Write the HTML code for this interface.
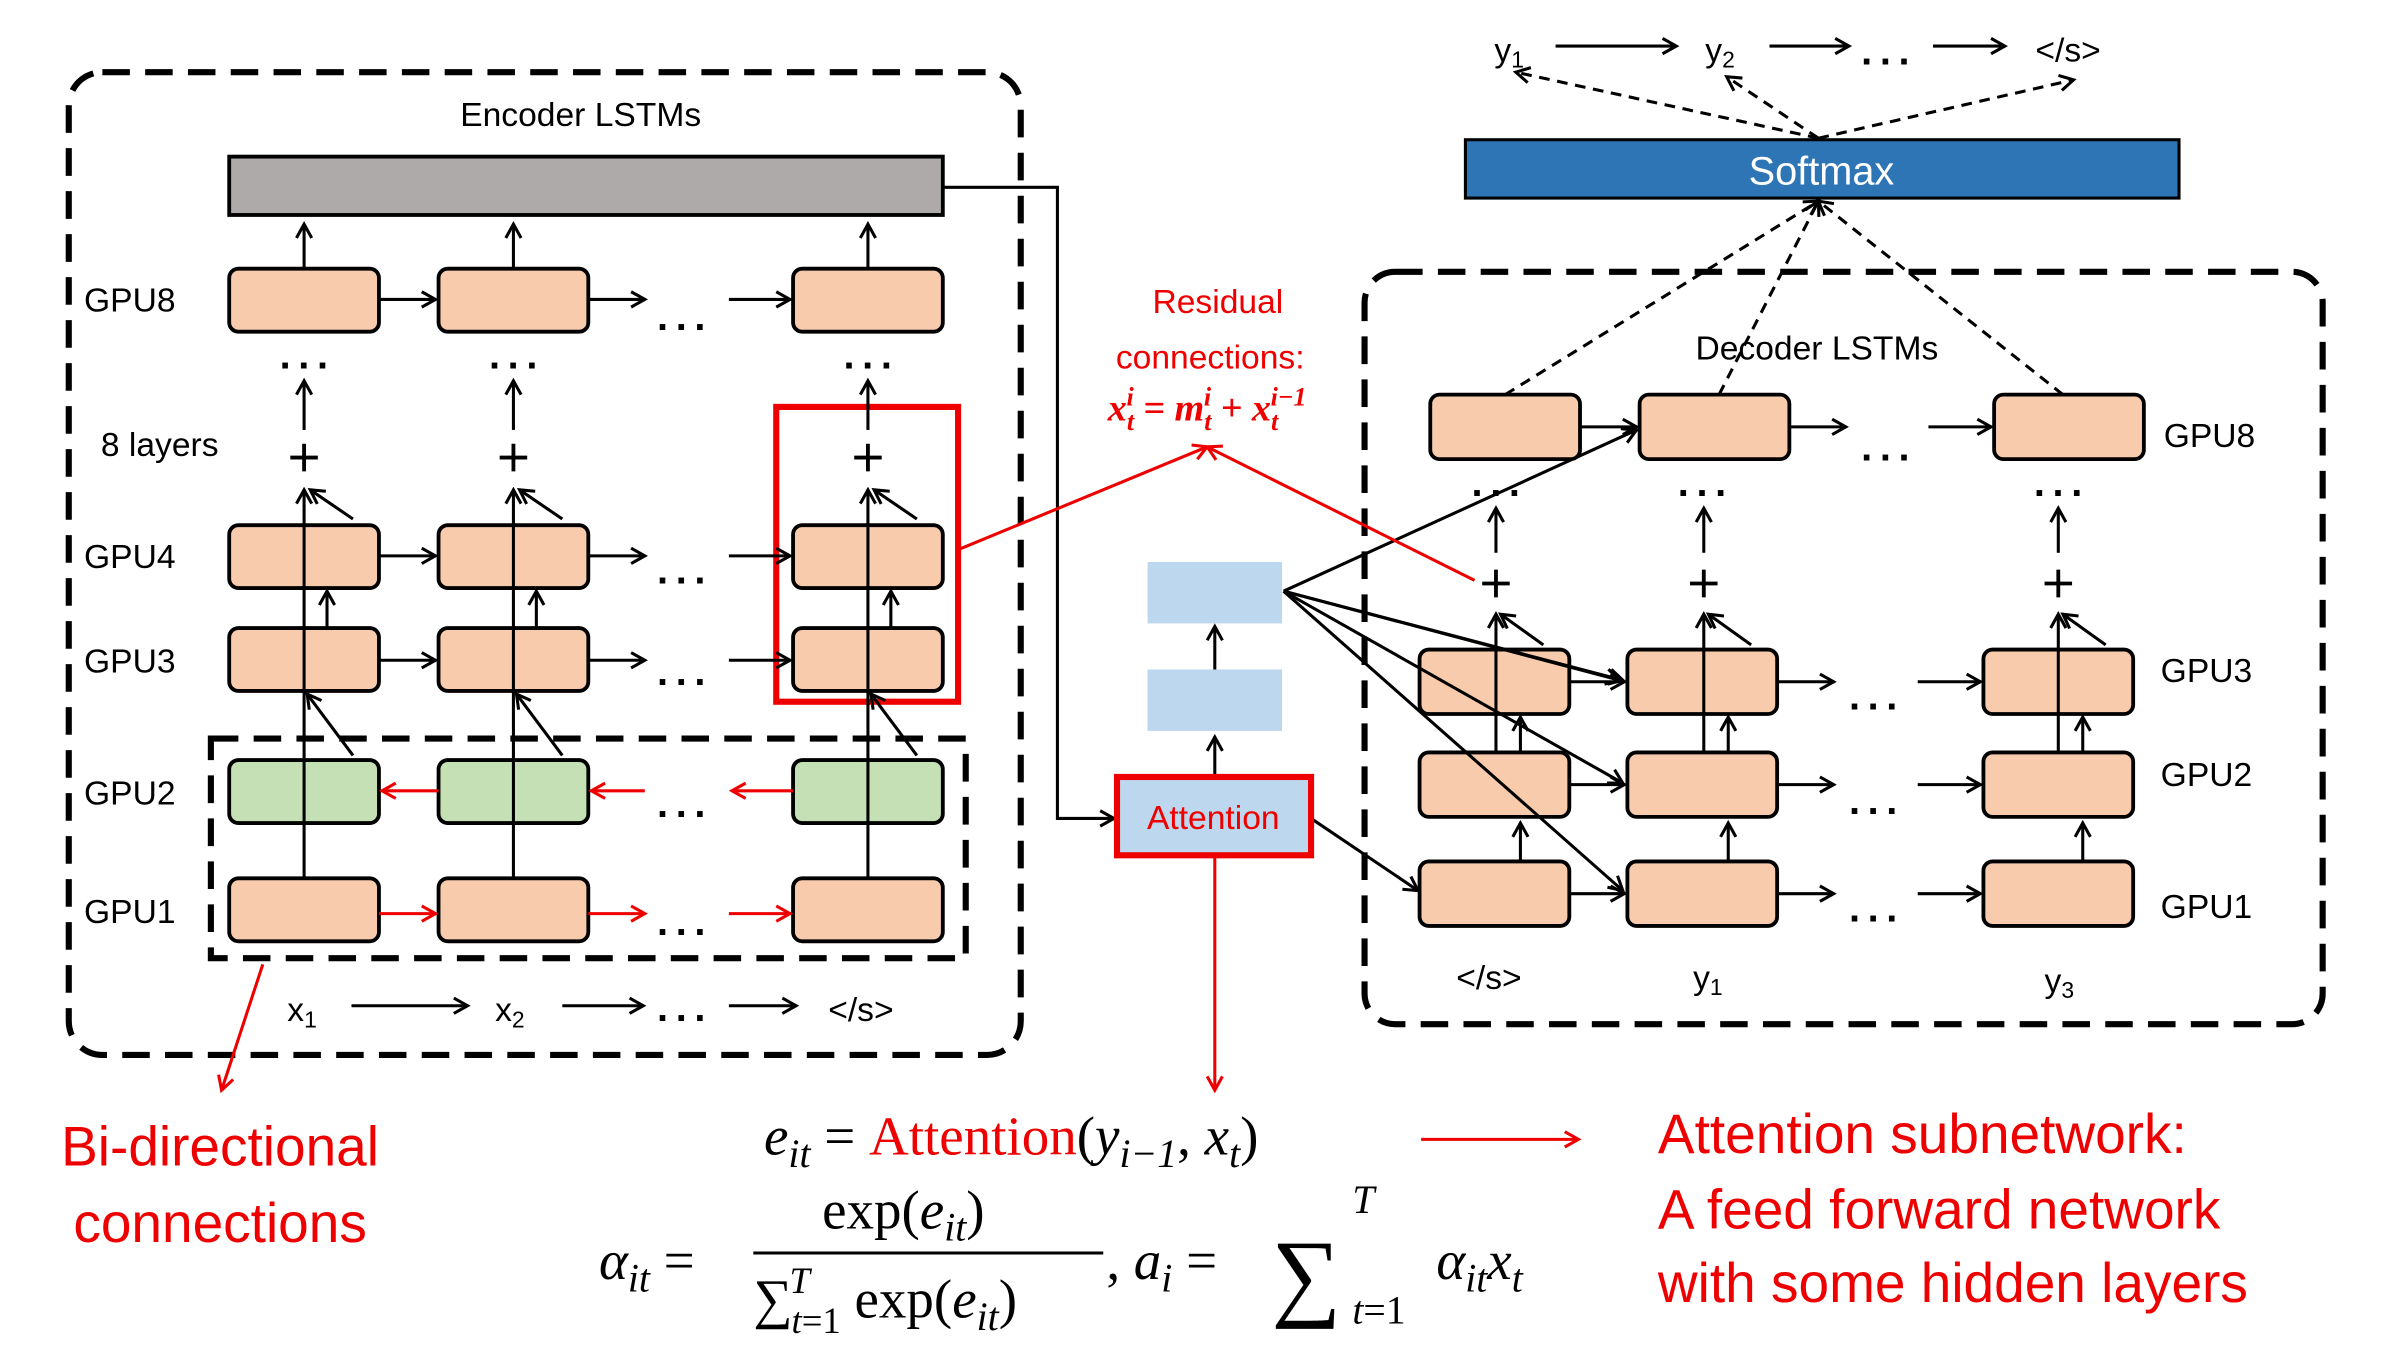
<!DOCTYPE html>
<html><head><meta charset="utf-8"><style>html,body{margin:0;padding:0;background:#fff}svg{display:block}</style></head><body>
<svg width="2396" height="1362" viewBox="0 0 1568 887" preserveAspectRatio="none" xmlns="http://www.w3.org/2000/svg" font-family="Liberation Sans, sans-serif">
<defs>
<marker id="a" markerWidth="12" markerHeight="12" refX="10" refY="6" orient="auto" markerUnits="userSpaceOnUse"><path d="M1,1 L10,6 L1,11" fill="none" stroke="#000" stroke-width="2"/></marker>
<marker id="r" markerWidth="12" markerHeight="12" refX="10" refY="6" orient="auto" markerUnits="userSpaceOnUse"><path d="M1,1 L10,6 L1,11" fill="none" stroke="#e00" stroke-width="2"/></marker>
</defs>
<g fill="none" stroke="#000" stroke-width="4" stroke-dasharray="18,10">
<rect x="45" y="47" width="623" height="640" rx="22"/>
<rect x="138" y="481" width="494" height="143"/>
<rect x="893" y="177" width="627" height="490" rx="20"/>
</g>
<rect x="508" y="265" width="119" height="192" fill="none" stroke="#e00" stroke-width="4"/>
<text x="380" y="82" font-size="22" text-anchor="middle">Encoder LSTMs</text>
<rect x="150" y="102" width="467" height="38" fill="#aeaaaa" stroke="#000" stroke-width="2.5"/>
<g font-size="22">
<text x="55" y="203">GPU8</text><text x="66" y="297">8 layers</text><text x="55" y="370">GPU4</text><text x="55" y="438">GPU3</text><text x="55" y="524">GPU2</text><text x="55" y="601">GPU1</text>
<text x="1416" y="291">GPU8</text><text x="1414" y="444">GPU3</text><text x="1414" y="512">GPU2</text><text x="1414" y="598">GPU1</text>
<text x="953" y="644">&lt;/s&gt;</text><text x="1108" y="644">y<tspan font-size="15" dy="4">1</tspan></text><text x="1338" y="646">y<tspan font-size="15" dy="4">3</tspan></text>
<text x="188" y="665">x<tspan font-size="15" dy="4">1</tspan></text><text x="324" y="665">x<tspan font-size="15" dy="4">2</tspan></text><text x="542" y="665">&lt;/s&gt;</text>
<text x="978" y="40">y<tspan font-size="15" dy="4">1</tspan></text><text x="1116" y="40">y<tspan font-size="15" dy="4">2</tspan></text><text x="1332" y="40">&lt;/s&gt;</text>
</g>
<g font-size="26" letter-spacing="5" font-weight="bold">
<text x="430" y="215">...</text><text x="430" y="380">...</text><text x="430" y="446">...</text><text x="430" y="532">...</text><text x="430" y="609">...</text><text x="430" y="665">...</text>
<text x="183" y="240">...</text><text x="320" y="240">...</text><text x="552" y="240">...</text>
<text x="1218" y="300">...</text><text x="1210" y="462">...</text><text x="1210" y="530">...</text><text x="1210" y="600">...</text><text x="1218" y="42">...</text>
<text x="963" y="323">...</text><text x="1098" y="323">...</text><text x="1331" y="323">...</text>
</g>
<g fill="#f8cbad" stroke="#000" stroke-width="2.5">
<rect x="150" y="175" width="98" height="41" rx="6"/><rect x="287" y="175" width="98" height="41" rx="6"/><rect x="519" y="175" width="98" height="41" rx="6"/>
<rect x="150" y="342" width="98" height="41" rx="6"/><rect x="287" y="342" width="98" height="41" rx="6"/><rect x="519" y="342" width="98" height="41" rx="6"/>
<rect x="150" y="409" width="98" height="41" rx="6"/><rect x="287" y="409" width="98" height="41" rx="6"/><rect x="519" y="409" width="98" height="41" rx="6"/>
<rect x="150" y="572" width="98" height="41" rx="6"/><rect x="287" y="572" width="98" height="41" rx="6"/><rect x="519" y="572" width="98" height="41" rx="6"/>
<rect x="936" y="257" width="98" height="42" rx="6"/><rect x="1073" y="257" width="98" height="42" rx="6"/><rect x="1305" y="257" width="98" height="42" rx="6"/>
<rect x="929" y="423" width="98" height="42" rx="6"/><rect x="1065" y="423" width="98" height="42" rx="6"/><rect x="1298" y="423" width="98" height="42" rx="6"/>
<rect x="929" y="490" width="98" height="42" rx="6"/><rect x="1065" y="490" width="98" height="42" rx="6"/><rect x="1298" y="490" width="98" height="42" rx="6"/>
<rect x="929" y="561" width="98" height="42" rx="6"/><rect x="1065" y="561" width="98" height="42" rx="6"/><rect x="1298" y="561" width="98" height="42" rx="6"/>
</g>
<g fill="#c5e0b4" stroke="#000" stroke-width="2.5">
<rect x="150" y="495" width="98" height="41" rx="6"/><rect x="287" y="495" width="98" height="41" rx="6"/><rect x="519" y="495" width="98" height="41" rx="6"/>
</g>
<g stroke="#000" stroke-width="2" fill="none" marker-end="url(#a)">
<path d="M248,195H285"/><path d="M385,195H422"/><path d="M477,195H517"/>
<path d="M248,362H285"/><path d="M385,362H422"/><path d="M477,362H517"/>
<path d="M248,430H285"/><path d="M385,430H422"/><path d="M477,430H517"/>
<path d="M199,175V146"/><path d="M336,175V146"/><path d="M568,175V146"/>
<path d="M199,280V248"/><path d="M336,280V248"/><path d="M568,280V248"/>
<path d="M199,572V319"/><path d="M336,572V319"/><path d="M568,572V319"/>
<path d="M231,338L203,319"/><path d="M368,338L340,319"/><path d="M600,338L572,319"/>
<path d="M214,409V385"/><path d="M351,409V385"/><path d="M583,409V385"/>
<path d="M231,492L201,452"/><path d="M368,492L338,452"/><path d="M600,492L570,452"/>
<path d="M230,655H306"/><path d="M368,655H421"/><path d="M477,655H521"/>
<path d="M617,122H692V533H729"/>
<path d="M795,506V480"/><path d="M795,436V408"/>
<path d="M1034,278H1071"/><path d="M1171,278H1208"/><path d="M1262,278H1303"/>
<path d="M1027,444H1063"/><path d="M1163,444H1200"/><path d="M1255,444H1296"/>
<path d="M1027,511H1063"/><path d="M1163,511H1200"/><path d="M1255,511H1296"/>
<path d="M1027,582H1063"/><path d="M1163,582H1200"/><path d="M1255,582H1296"/>
<path d="M979,360V331"/><path d="M1115,360V331"/><path d="M1347,360V331"/>
<path d="M979,490V400"/><path d="M1115,490V400"/><path d="M1347,490V400"/>
<path d="M1010,420L982,400"/><path d="M1146,420L1118,400"/><path d="M1378,420L1350,400"/>
<path d="M995,561V536"/><path d="M1131,561V536"/><path d="M1363,561V536"/>
<path d="M995,490V467"/><path d="M1131,490V467"/><path d="M1363,490V467"/>
<path d="M1018,30H1097"/><path d="M1158,30H1210"/><path d="M1265,30H1312"/>
<path d="M840,385L1071,280"/><path d="M840,385L1062,443"/><path d="M840,385L1062,510"/><path d="M840,385L1062,580"/><path d="M840,385L1060,443"/>
<path d="M858,533L928,580"/>
</g>
<g stroke="#000" stroke-width="2" fill="none" stroke-dasharray="7,5" marker-end="url(#a)">
<path d="M1190,90L992,47"/><path d="M1190,90L1130,50"/><path d="M1190,90L1357,52"/>
<path d="M985,257L1190,131"/><path d="M1125,257L1190,131"/><path d="M1350,257L1190,131"/>
</g>
<g stroke="#000" stroke-width="2.5">
<path d="M190,298h18M199,289v18"/><path d="M327,298h18M336,289v18"/><path d="M559,298h18M568,289v18"/>
<path d="M970,380h18M979,371v18"/><path d="M1106,380h18M1115,371v18"/><path d="M1338,380h18M1347,371v18"/>
</g>
<rect x="959" y="91" width="467" height="38" fill="#2e75b6" stroke="#000" stroke-width="2"/>
<text x="1192" y="120" font-size="26" fill="#fff" text-anchor="middle">Softmax</text>
<text x="1189" y="234" font-size="22" text-anchor="middle">Decoder LSTMs</text>
<rect x="751" y="366" width="88" height="40" fill="#bdd7ee"/>
<rect x="751" y="436" width="88" height="40" fill="#bdd7ee"/>
<rect x="731" y="506" width="127" height="51" fill="#bdd7ee" stroke="#e00" stroke-width="4"/>
<text x="794" y="540" font-size="22" fill="#e00" text-anchor="middle">Attention</text>
<g stroke="#e00" stroke-width="2" fill="none" marker-end="url(#r)">
<path d="M248,595H285"/><path d="M385,595H422"/><path d="M477,595H517"/>
<path d="M287,515H250"/><path d="M422,515H387"/><path d="M519,515H479"/>
<path d="M627,358L790,291"/><path d="M965,378L790,291"/>
<path d="M795,557V710"/><path d="M930,742H1033"/><path d="M172,628L145,710"/>
</g>
<g fill="#e00" text-anchor="middle">
<text x="797" y="204" font-size="22">Residual</text>
<text x="792" y="240" font-size="22">connections:</text>
<text x="790" y="274" font-size="25" font-family="Liberation Serif, serif" font-style="italic" font-weight="bold">x<tspan font-size="17" dy="6">t</tspan><tspan font-size="17" dx="-5" dy="-16">i</tspan><tspan dy="10"> = m</tspan><tspan font-size="17" dy="6">t</tspan><tspan font-size="17" dx="-5" dy="-16">i</tspan><tspan dy="10"> + x</tspan><tspan font-size="17" dy="6">t</tspan><tspan font-size="17" dx="-5" dy="-16">i−1</tspan></text>
</g>
<g fill="#e00" font-size="36">
<text x="40" y="759">Bi-directional</text><text x="48" y="809">connections</text>
<text x="1085" y="751">Attention subnetwork:</text><text x="1085" y="800">A feed forward network</text><text x="1085" y="848">with some hidden layers</text>
</g>
<g font-family="Liberation Serif, serif" font-size="36">
<text x="500" y="752"><tspan font-style="italic">e</tspan><tspan font-style="italic" font-size="26" dy="8">it</tspan><tspan dy="-8"> = </tspan><tspan fill="#e00">Attention</tspan>(<tspan font-style="italic">y</tspan><tspan font-style="italic" font-size="26" dy="8">i−1</tspan><tspan dy="-8">, </tspan><tspan font-style="italic">x</tspan><tspan font-style="italic" font-size="26" dy="8">t</tspan><tspan dy="-8">)</tspan></text>
<text x="392" y="833"><tspan font-style="italic">α</tspan><tspan font-style="italic" font-size="26" dy="8">it</tspan><tspan dy="-8"> =</tspan></text>
<text x="538" y="800">exp(<tspan font-style="italic">e</tspan><tspan font-style="italic" font-size="26" dy="8">it</tspan><tspan dy="-8">)</tspan></text>
<line x1="493" y1="816" x2="722" y2="816" stroke="#000" stroke-width="2"/>
<text x="493" y="858">∑<tspan font-style="italic" font-size="24" dx="-2" dy="-16">T</tspan><tspan font-style="italic" font-size="24" dx="-12" dy="26">t</tspan><tspan font-size="24">=1</tspan><tspan dy="-10"> exp(</tspan><tspan font-style="italic">e</tspan><tspan font-style="italic" font-size="26" dy="8">it</tspan><tspan dy="-8">)</tspan></text>
<text x="724" y="833">, <tspan font-style="italic">a</tspan><tspan font-style="italic" font-size="26" dy="8">i</tspan><tspan dy="-8"> =</tspan></text>
<text x="832" y="852" font-size="64">∑</text>
<text x="885" y="790" font-size="26" font-style="italic">T</text>
<text x="885" y="862" font-size="26"><tspan font-style="italic">t</tspan>=1</text>
<text x="940" y="833" font-style="italic">α<tspan font-size="26" dy="8">it</tspan><tspan dy="-8">x</tspan><tspan font-size="26" dy="8">t</tspan></text>
</g>
</svg>
</body></html>
